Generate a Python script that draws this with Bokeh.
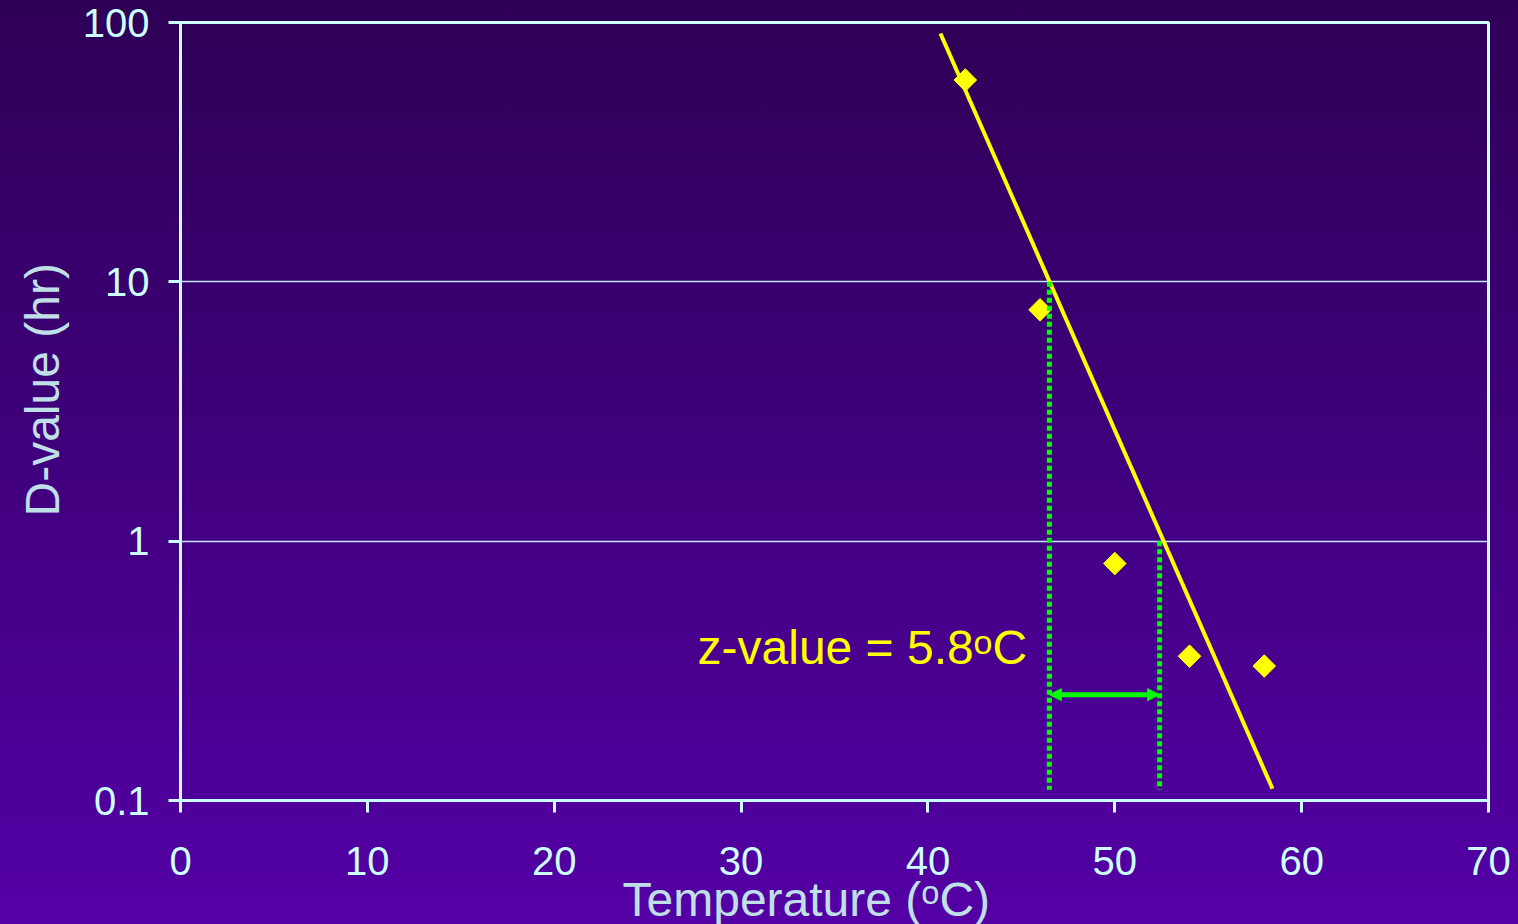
import numpy as np
from bokeh.plotting import figure
from bokeh.models import (Range1d, FixedTicker, Label, Arrow, NormalHead, Title,
                          GlobalInlineStyleSheet, ColumnDataSource)
from bokeh.embed import file_html
from bokeh.resources import INLINE

# ---------------- data ----------------
temperature = [42, 46, 50, 54, 58]          # deg C
d_value = [60, 7.8, 0.82, 0.36, 0.33]        # hr
fit_temperature = [40.67, 58.44]
fit_d_value = [90.7, 0.111]
z_low_temp = 46.5      # fitted line crosses D = 10
z_high_temp = 52.4     # fitted line crosses D = 1
z_marker_top = [10, 1]
z_marker_bottom = 0.11
z_arrow_d = 0.256
z_text = "z-value = 5.8"
x_ticks = [0, 10, 20, 30, 40, 50, 60, 70]
y_ticks = [0.1, 1, 10, 100]
y_tick_labels = ["0.1", "1", "10", "100"]
x_title = "Temperature (\u1d52C)"
y_title = "D-value (hr)"

FONT = "Liberation Sans"
AXIS_COL = "#ccffff"
GRID_COL = "#c0e8f8"
TITLE_COL = "#c0e0e8"
YELLOW = "#ffff00"
GREEN = "#00ff00"

p = figure(width=1518, height=924, output_backend="svg", toolbar_location=None,
           x_range=Range1d(0, 70), y_range=Range1d(0.1, 100), y_axis_type="log",
           min_border_left=180, min_border_right=30, min_border_top=22,
           min_border_bottom=124)
p.background_fill_color = None
p.border_fill_color = None
p.outline_line_color = AXIS_COL
p.outline_line_width = 3
p.styles = {"background-image": "linear-gradient(to bottom, #2d0055 0%, #5400a6 100%)"}
p.stylesheets = [GlobalInlineStyleSheet(css="html,body{margin:0;padding:0;overflow:hidden;background:#2d0055;}")]

# axes
for ax in (p.xaxis[0], p.yaxis[0]):
    ax.axis_line_color = AXIS_COL
    ax.axis_line_width = 3
    ax.major_tick_line_color = AXIS_COL
    ax.major_tick_line_width = 3
    ax.major_tick_out = 12
    ax.major_tick_in = 0
    ax.minor_tick_line_color = None
    ax.major_label_text_color = AXIS_COL
    ax.major_label_text_font = FONT
    ax.major_label_text_font_size = "40px"

p.xaxis.ticker = FixedTicker(ticks=x_ticks)
p.xaxis.major_label_standoff = 34
p.yaxis.ticker = FixedTicker(ticks=y_ticks)
p.yaxis.major_label_overrides = {t: s for t, s in zip(y_ticks, y_tick_labels)}
p.yaxis.major_label_standoff = 19

p.xgrid.visible = False
p.ygrid.grid_line_color = GRID_COL
p.ygrid.grid_line_width = 1.5

# axis titles
p.add_layout(Title(text=x_title, align="left", offset=442, standoff=-14,
                   text_font=FONT, text_font_size="48px", text_font_style="normal",
                   text_color=TITLE_COL), "below")
p.add_layout(Title(text=y_title, align="left", offset=284, standoff=18,
                   vertical_align="top",
                   text_font=FONT, text_font_size="48px", text_font_style="normal",
                   text_color=TITLE_COL), "left")

# fitted line and data
p.line(fit_temperature, fit_d_value, line_color=YELLOW, line_width=4)
src = ColumnDataSource(dict(t=temperature, d=d_value))
p.scatter("t", "d", source=src, marker="square", angle=np.pi / 4, size=16,
          fill_color=YELLOW, line_color=YELLOW)

# z-value construction
p.segment(x0=[z_low_temp, z_high_temp], y0=z_marker_top,
          x1=[z_low_temp, z_high_temp], y1=[z_marker_bottom, z_marker_bottom],
          line_color=GREEN, line_width=5, line_dash="5 3")
p.add_layout(Arrow(start=NormalHead(size=12, fill_color=GREEN, line_color=GREEN),
                   end=NormalHead(size=12, fill_color=GREEN, line_color=GREEN),
                   x_start=z_low_temp, y_start=z_arrow_d, x_end=z_high_temp, y_end=z_arrow_d,
                   line_color=GREEN, line_width=5))


def label(text, x, y, size, color, xoff=0, yoff=0):
    p.add_layout(Label(text=text, x=x, y=y, x_offset=xoff, y_offset=yoff,
                       text_font=FONT, text_font_size=size, text_color=color,
                       text_align="left", text_baseline="middle"))


# z-value text with superscript o
label(z_text, 27.67, 0.3314, "48px", YELLOW, yoff=18)
label("o", 27.67, 0.3314, "34px", YELLOW, xoff=276, yoff=24)
label("C", 27.67, 0.3314, "48px", YELLOW, xoff=295, yoff=18)

open("out.html", "w").write(file_html(p, INLINE))
